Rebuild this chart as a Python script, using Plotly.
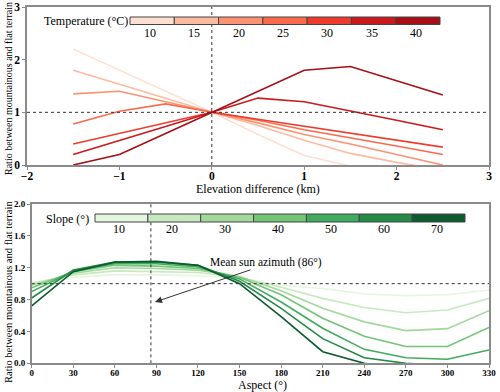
import plotly.graph_objects as go

# ---------------- data ----------------
elev = [-1.5, -1.0, -0.5, 0.0, 0.5, 1.0, 1.5, 2.0, 2.5]
temps = [10, 15, 20, 25, 30, 35, 40]
ratio_t10 = [2.20, 1.80, 1.40, 1.00, 0.58, 0.18, -0.02, -0.20, -0.40]
ratio_t15 = [1.80, 1.53, 1.27, 1.00, 0.75, 0.47, 0.22, 0.05, -0.10]
ratio_t20 = [1.35, 1.40, 1.20, 1.00, 0.80, 0.58, 0.40, 0.20, 0.00]
ratio_t25 = [0.78, 1.02, 1.16, 1.00, 0.85, 0.67, 0.52, 0.36, 0.20]
ratio_t30 = [0.40, 0.60, 0.80, 1.00, 0.87, 0.74, 0.60, 0.47, 0.34]
ratio_t35 = [0.20, 0.46, 0.73, 1.00, 1.27, 1.20, 1.03, 0.85, 0.67]
ratio_t40 = [0.00, 0.20, 0.60, 1.00, 1.40, 1.80, 1.87, 1.60, 1.33]
temp_series = [ratio_t10, ratio_t15, ratio_t20, ratio_t25, ratio_t30, ratio_t35, ratio_t40]
temp_colors = ["#fee0d2", "#fcbba1", "#fc9272", "#fb6a4a", "#ef3b2c", "#cb181d", "#a50f15"]

aspect = [0, 30, 60, 90, 120, 150, 180, 210, 240, 270, 300, 330]
slopes = [10, 20, 30, 40, 50, 60, 70]
ratio_s10 = [1.02, 1.08, 1.11, 1.11, 1.10, 1.07, 0.98, 0.94, 0.87, 0.85, 0.86, 0.92]
ratio_s20 = [1.00, 1.11, 1.16, 1.15, 1.14, 1.08, 0.955, 0.815, 0.70, 0.635, 0.67, 0.815]
ratio_s30 = [0.98, 1.13, 1.20, 1.19, 1.17, 1.09, 0.91, 0.69, 0.52, 0.41, 0.435, 0.66]
ratio_s40 = [0.95, 1.15, 1.23, 1.22, 1.19, 1.08, 0.86, 0.565, 0.34, 0.21, 0.21, 0.45]
ratio_s50 = [0.90, 1.16, 1.25, 1.25, 1.21, 1.06, 0.77, 0.44, 0.175, 0.07, 0.05, 0.167]
ratio_s60 = [0.82, 1.17, 1.27, 1.27, 1.23, 1.03, 0.69, 0.31, 0.07, 0.00, -0.03, -0.02]
ratio_s70 = [0.72, 1.15, 1.27, 1.28, 1.23, 1.00, 0.585, 0.146, 0.00, -0.08, -0.12, -0.10]
slope_series = [ratio_s10, ratio_s20, ratio_s30, ratio_s40, ratio_s50, ratio_s60, ratio_s70]
slope_colors = ["#e5f5e0", "#c7e9c0", "#a1d99b", "#74c476", "#41ab5d", "#238b45", "#0b5b2e"]

mean_sun_azimuth = 86

# ---------------- figure ----------------
W, H = 500, 392
FONT = "'Liberation Serif', 'Times New Roman', Times, 'DejaVu Serif', serif"

def px(x):
    return x / W

def py(y):
    return 1 - y / H

fig = go.Figure()

for t, ys, c in zip(temps, temp_series, temp_colors):
    fig.add_trace(go.Scatter(x=elev, y=ys, mode="lines", line=dict(color=c, width=1.6),
                             name=f"{t}", showlegend=False, xaxis="x", yaxis="y",
                             hoverinfo="skip"))

for s, ys, c in zip(slopes, slope_series, slope_colors):
    fig.add_trace(go.Scatter(x=aspect, y=ys, mode="lines", line=dict(color=c, width=1.6),
                             name=f"{s}", showlegend=False, xaxis="x2", yaxis="y2",
                             hoverinfo="skip"))

axis_common = dict(showgrid=False, zeroline=False, showline=True, mirror=True,
                   linecolor="#8a8a8a", linewidth=1.5, ticks="outside", ticklen=3,
                   tickcolor="#8a8a8a", tickwidth=1, automargin=False)

fig.update_layout(
    template="none",
    width=W, height=H, margin=dict(l=0, r=0, t=0, b=0, pad=0),
    paper_bgcolor="white", plot_bgcolor="white",
    font=dict(family=FONT, color="black"),
    xaxis=dict(domain=[px(27), px(489)], range=[-2, 3], tickvals=[-2, -1, 0, 1, 2, 3],
               anchor="y", ticklabelstandoff=-4,
               tickfont=dict(size=11.5, family=FONT, weight="bold"), **axis_common),
    yaxis=dict(domain=[py(165), py(7)], range=[0, 3], tickvals=[0, 1, 2, 3],
               anchor="x", tickfont=dict(size=11.5, family=FONT, weight="bold"), **axis_common),
    xaxis2=dict(domain=[px(31.7), px(489)], range=[0, 330], tickvals=aspect,
                anchor="y2", ticklabelstandoff=-3,
                tickfont=dict(size=9, family=FONT, weight="bold"), **axis_common),
    yaxis2=dict(domain=[py(363.3), py(204)], range=[0, 2.0],
                tickvals=[0, 0.4, 0.8, 1.2, 1.6, 2.0], tickformat=".1f",
                anchor="x2", tickfont=dict(size=9, family=FONT, weight="bold"), **axis_common),
)

dash_style = dict(color="#333333", width=1, dash="3px,3px")
shapes = [
    dict(type="line", xref="x", yref="y", x0=-2, x1=3, y0=1, y1=1, line=dash_style),
    dict(type="line", xref="x", yref="y", x0=0, x1=0, y0=0, y1=3, line=dash_style),
    dict(type="line", xref="x2", yref="y2", x0=0, x1=330, y0=1, y1=1, line=dash_style),
    dict(type="line", xref="x2", yref="y2", x0=mean_sun_azimuth, x1=mean_sun_azimuth,
         y0=0, y1=2, line=dash_style),
]

annotations = []

# colour-bar legends
def colorbar(x0, x1, y0, y1, colors, labels, title, title_x, label_y):
    n = len(colors)
    w = (x1 - x0) / n
    for i, (c, lab) in enumerate(zip(colors, labels)):
        shapes.append(dict(type="rect", xref="paper", yref="paper",
                           x0=px(x0 + i * w), x1=px(x0 + (i + 1) * w),
                           y0=py(y1), y1=py(y0), fillcolor=c,
                           line=dict(color="#444444", width=1)))
        annotations.append(dict(xref="paper", yref="paper", x=px(x0 + (i + 0.5) * w - 2),
                                y=py(label_y), text=str(lab), showarrow=False,
                                font=dict(size=12, family=FONT), xanchor="center",
                                yanchor="middle"))
    annotations.append(dict(xref="paper", yref="paper", x=px(title_x), y=py((y0 + y1) / 2 + 0.5),
                            text=title, showarrow=False, font=dict(size=12, family=FONT),
                            xanchor="center", yanchor="middle"))

colorbar(130, 440, 17, 24.5, temp_colors, temps, "Temperature (°C)", 86, 33)
colorbar(95, 465, 214, 222, slope_colors, slopes, "Slope (°)", 67, 229)

# axis titles
ytitle = "Ratio between mountainous and flat terrain"
annotations.append(dict(xref="paper", yref="paper", x=px(8), y=py(89), text=ytitle,
                        textangle=-90, showarrow=False, font=dict(size=10, family=FONT),
                        xanchor="center", yanchor="middle"))
annotations.append(dict(xref="paper", yref="paper", x=px(8), y=py(292), text=ytitle,
                        textangle=-90, showarrow=False, font=dict(size=10.5, family=FONT),
                        xanchor="center", yanchor="middle"))
annotations.append(dict(xref="paper", yref="paper", x=px(258), y=py(188.5),
                        text="Elevation difference (km)", showarrow=False,
                        font=dict(size=12, family=FONT), xanchor="center", yanchor="middle"))
annotations.append(dict(xref="paper", yref="paper", x=px(262), y=py(384.5),
                        text="Aspect (°)", showarrow=False,
                        font=dict(size=12, family=FONT), xanchor="center", yanchor="middle"))

# mean sun azimuth annotation
annotations.append(dict(xref="x2", yref="y2", x=169, y=1.26,
                        text=f"Mean sun azimuth ({mean_sun_azimuth}°)", showarrow=False,
                        font=dict(size=11.5, family=FONT), xanchor="center", yanchor="middle"))
annotations.append(dict(xref="x2", yref="y2", x=89, y=0.77, axref="x2", ayref="y2",
                        ax=159, ay=1.18, text="", showarrow=True, arrowhead=2,
                        arrowsize=1.4, arrowwidth=1, arrowcolor="#333333"))

fig.update_layout(shapes=shapes, annotations=annotations, hovermode=False)

fig.write_html("out.html", config={"displayModeBar": False},
               post_script="document.body.style.margin='0px';")
